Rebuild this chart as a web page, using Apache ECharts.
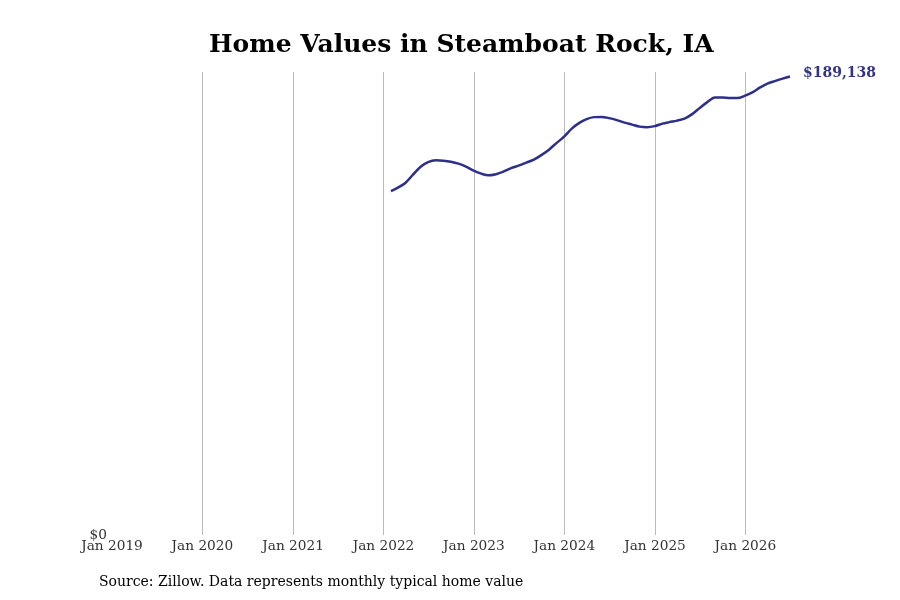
<!DOCTYPE html>
<html>
<head>
<meta charset="utf-8">
<script src="https://cdn.jsdelivr.net/npm/echarts@6/dist/echarts.min.js"></script>
<style>html,body{margin:0;padding:0;background:#fff}#c{width:900px;height:600px}</style>
</head>
<body>
<div id="c"></div>
<script>
const dates = [
'2022-01-31','2022-02-28','2022-03-31','2022-04-30','2022-05-31','2022-06-30','2022-07-31','2022-08-31','2022-09-30','2022-10-31','2022-11-30','2022-12-31',
'2023-01-31','2023-02-28','2023-03-31','2023-04-30','2023-05-31','2023-06-30','2023-07-31','2023-08-31','2023-09-30','2023-10-31','2023-11-30','2023-12-31',
'2024-01-31','2024-02-29','2024-03-31','2024-04-30','2024-05-31','2024-06-30','2024-07-31','2024-08-31','2024-09-30','2024-10-31','2024-11-30','2024-12-31',
'2025-01-31','2025-02-28','2025-03-31','2025-04-30','2025-05-31','2025-06-30','2025-07-31','2025-08-31','2025-09-30','2025-10-31','2025-11-30','2025-12-31',
'2026-01-31','2026-02-28','2026-03-31','2026-04-30','2026-05-31','2026-06-30'
];
const values = [
141900,143300,145360,148670,151970,153830,154570,154450,154040,153210,151970,150320,
149080,148380,148870,149900,151350,152380,153620,154860,156720,158990,161670,164360,
167660,169940,171590,172410,172500,172000,171180,170140,169320,168490,168280,168700,
169730,170350,170970,171790,173650,176130,178610,180470,180470,180260,180260,181290,
182740,184590,186240,187280,188310,189138
];
const title = 'Home Values in Steamboat Rock, IA';
const source = 'Source: Zillow. Data represents monthly typical home value';
const xMin = '2019-01-01';
const xMax = '2026-06-30';

const chart = echarts.init(document.getElementById('c'));
const yMax = Math.max(...values) * 1.01;
const font = '"DejaVu Serif", serif';
const minTs = new Date(xMin + 'T00:00:00').getTime();
chart.setOption({
  animation: false,
  title: [{
    text: title, left: 209, top: 33, padding: 0,
    textStyle: {fontFamily: font, fontSize: 25, fontWeight: 'bold', color: '#000'}
  }, {
    text: source, left: 99, top: 575, padding: 0,
    textStyle: {fontFamily: font, fontSize: 14, fontWeight: 'normal', color: '#000'}
  }],
  grid: {left: 112, right: 110, top: 72, bottom: 65, containLabel: false},
  xAxis: {
    type: 'time', min: xMin, max: xMax,
    minInterval: 365 * 24 * 3600 * 1000, maxInterval: 366 * 24 * 3600 * 1000,
    axisLine: {show: false}, axisTick: {show: false},
    splitLine: {show: true, showMinLine: false, showMaxLine: false, lineStyle: {color: '#bbbbbb', width: 1}},
    axisLabel: {
      margin: 4, fontFamily: font, fontSize: 13.7, color: '#333',
      formatter: function (v) { const d = new Date(v); return 'Jan ' + d.getFullYear(); }
    }
  },
  yAxis: {
    type: 'value', min: 0, max: yMax, interval: yMax,
    axisLine: {show: false}, axisTick: {show: false}, splitLine: {show: false},
    axisLabel: {
      margin: 5, fontFamily: font, fontSize: 13.7, color: '#333', padding: [3, 0, 0, 0],
      formatter: function (v) { return v === 0 ? '$0' : ''; }
    }
  },
  series: [{
    type: 'line', showSymbol: false, smooth: 0.3,
    data: dates.map((d, i) => [d, values[i]]),
    lineStyle: {color: '#2e2e8c', width: 2.5},
    itemStyle: {color: '#2e2e8c'},
    endLabel: {
      show: true, distance: 13,
      formatter: function (p) { return '$' + p.value[1].toLocaleString('en-US'); },
      fontFamily: font, fontSize: 14, fontWeight: 'bold', color: '#333388', offset: [0, -3]
    }
  }]
});
// cover the split line at the axis minimum (the reference has none there)
const px = chart.convertToPixel({gridIndex: 0}, [minTs, yMax]);
const p0 = chart.convertToPixel({gridIndex: 0}, [minTs, 0]);
chart.setOption({
  graphic: [{
    type: 'rect', silent: true, z: 100,
    shape: {x: px[0] - 1.5, y: px[1] - 1, width: 3, height: p0[1] - px[1] + 2},
    style: {fill: '#ffffff'}
  }]
});
</script>
</body>
</html>
